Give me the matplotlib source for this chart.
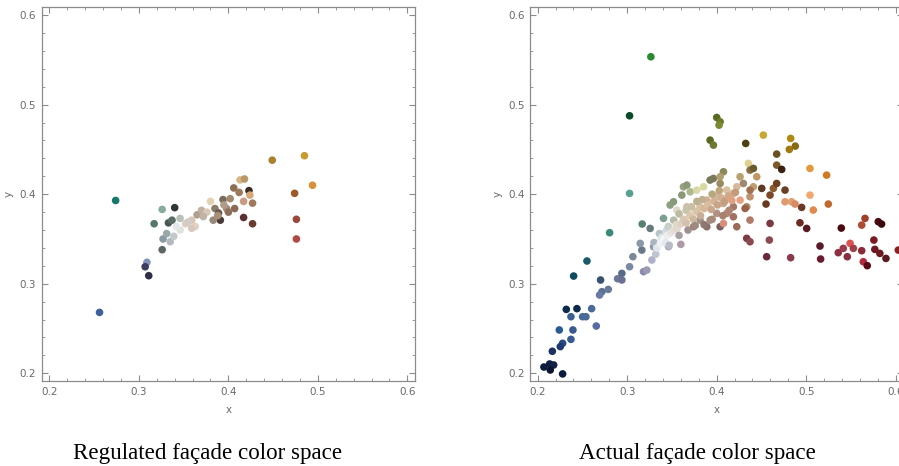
import matplotlib
matplotlib.use('Agg')
import matplotlib.pyplot as plt
from matplotlib.ticker import MultipleLocator

# Regulated facade colours (chromaticity x, y, colour)
reg_x = [0.256, 0.274, 0.309, 0.307, 0.311, 0.317, 0.326, 0.340, 0.326, 0.327,
         0.333, 0.337, 0.331, 0.335, 0.339, 0.346, 0.346, 0.352, 0.359, 0.363,
         0.359, 0.365, 0.370, 0.380, 0.376, 0.385, 0.389, 0.391, 0.383, 0.394,
         0.398, 0.402, 0.406, 0.412, 0.407, 0.413, 0.418, 0.417, 0.423, 0.424,
         0.427, 0.417, 0.427, 0.449, 0.485, 0.494, 0.474, 0.476, 0.476, 0.342,
         0.355, 0.372, 0.395, 0.400, 0.388]
reg_y = [0.268, 0.393, 0.324, 0.319, 0.309, 0.367, 0.383, 0.385, 0.338, 0.350,
         0.368, 0.371, 0.356, 0.347, 0.353, 0.373, 0.360, 0.367, 0.371, 0.364,
         0.362, 0.377, 0.382, 0.392, 0.380, 0.384, 0.379, 0.371, 0.371, 0.394,
         0.384, 0.395, 0.407, 0.402, 0.384, 0.416, 0.417, 0.392, 0.404, 0.399,
         0.390, 0.374, 0.367, 0.438, 0.443, 0.410, 0.401, 0.372, 0.350, 0.364,
         0.369, 0.375, 0.388, 0.380, 0.376]
reg_c = ['#3f6199', '#16786a', '#8393bb', '#3b3d5c', '#2e2e46', '#567868', '#8aab9c',
         '#2f3636', '#5a6565', '#8a9aa2', '#4a5656', '#5b6b66', '#9aa8ab', '#b2babf',
         '#c4caca', '#b8c2ba', '#e2e2de', '#d8d0c8', '#d8c8b8', '#e2d0c4', '#d8c8bc',
         '#b0a090', '#c0b0a0', '#e2d2b0', '#d8c8b8', '#8a7a6a', '#6a5a50', '#4a3a35',
         '#9a8a7a', '#7a6a5a', '#a28c7a', '#a08a70', '#8a7055', '#9a7a5a', '#8a6a55',
         '#d8b888', '#b89868', '#c89a80', '#3a2a20', '#d8a878', '#a07a58', '#5a3030',
         '#6a3a30', '#a88030', '#c89a30', '#d8903a', '#9a5a2a', '#9a4a3a', '#b04a45',
         '#e4e8ea', '#d4ccc4', '#c0b4a4', '#b09c88', '#8c705c', '#a89078']

# Actual facade colours
act_x = [0.207, 0.2134, 0.2179, 0.2141, 0.2279, 0.2164, 0.2242, 0.2279, 0.2253, 0.2372,
         0.2394, 0.2372, 0.232, 0.2439, 0.2502, 0.2539, 0.2603, 0.2655, 0.2402, 0.2551,
         0.2703, 0.2718, 0.2692, 0.2789, 0.2804, 0.2893, 0.2941, 0.2941, 0.3027, 0.3027,
         0.3027, 0.3168, 0.3183, 0.322, 0.3064, 0.3164, 0.3146, 0.3257, 0.3276, 0.3295,
         0.3369, 0.3406, 0.3443, 0.3406, 0.3462, 0.36, 0.348, 0.3518, 0.3611, 0.3629,
         0.3667, 0.3704, 0.3778, 0.3853, 0.3927, 0.4039, 0.3964, 0.4076, 0.4039, 0.3555,
         0.3667, 0.3741, 0.3815, 0.389, 0.4001, 0.4113, 0.4187, 0.4076, 0.4225, 0.3927,
         0.4001, 0.3815, 0.3741, 0.389, 0.4039, 0.4113, 0.4262, 0.4299, 0.4262, 0.4076,
         0.4187, 0.4225, 0.4187, 0.4336, 0.4373, 0.4411, 0.4355, 0.4373, 0.4411, 0.4448,
         0.4504, 0.4373, 0.4318, 0.4373, 0.4336, 0.4373, 0.4559, 0.4552, 0.4597, 0.4634,
         0.4597, 0.4589, 0.4671, 0.4764, 0.4671, 0.4727, 0.4671, 0.4522, 0.4827, 0.4812,
         0.4879, 0.4325, 0.3927, 0.3964, 0.4001, 0.4039, 0.4027, 0.4764, 0.4838, 0.4876,
         0.495, 0.4931, 0.5006, 0.5043, 0.5043, 0.508, 0.5229, 0.5248, 0.4827, 0.5155,
         0.5162, 0.5393, 0.5359, 0.5415, 0.546, 0.5491, 0.5528, 0.5621, 0.5621, 0.5658,
         0.5639, 0.5683, 0.5757, 0.5768, 0.5806, 0.5843, 0.5824, 0.5892, 0.603, 0.3265]
act_y = [0.207, 0.2104, 0.2093, 0.2037, 0.1993, 0.2246, 0.2484, 0.2335, 0.2298, 0.2379,
         0.2484, 0.2632, 0.2714, 0.2722, 0.2632, 0.2632, 0.2722, 0.2528, 0.3086, 0.3254,
         0.3042, 0.2911, 0.2874, 0.2937, 0.357, 0.3056, 0.3116, 0.3042, 0.319, 0.4876,
         0.4009, 0.3667, 0.3135, 0.3153, 0.3302, 0.3376, 0.3451, 0.3618, 0.3265, 0.3414,
         0.3488, 0.3562, 0.36, 0.373, 0.3414, 0.344, 0.3879, 0.3916, 0.399, 0.4083,
         0.4102, 0.4027, 0.4046, 0.4083, 0.4158, 0.412, 0.4176, 0.4251, 0.4195, 0.3823,
         0.386, 0.3786, 0.386, 0.3934, 0.3972, 0.4046, 0.4009, 0.3897, 0.4083, 0.3711,
         0.3786, 0.3711, 0.3637, 0.3637, 0.3637, 0.3786, 0.4195, 0.412, 0.3934, 0.3674,
         0.3748, 0.3637, 0.386, 0.386, 0.3972, 0.4083, 0.4344, 0.4269, 0.4288, 0.4195,
         0.4065, 0.4046, 0.3841, 0.3711, 0.3507, 0.3469, 0.3302, 0.389, 0.399, 0.4065,
         0.3674, 0.3488, 0.412, 0.4046, 0.4325, 0.4277, 0.4448, 0.466, 0.4623, 0.45,
         0.4537, 0.4567, 0.4604, 0.4548, 0.4857, 0.4809, 0.4771, 0.3916, 0.3916, 0.389,
         0.3853, 0.3681, 0.3618, 0.4288, 0.399, 0.3823, 0.4213, 0.389, 0.3291, 0.3421,
         0.3276, 0.3622, 0.3347, 0.3395, 0.3302, 0.3451, 0.3395, 0.3369, 0.3655, 0.373,
         0.3246, 0.3202, 0.3488, 0.3384, 0.3693, 0.3667, 0.3339, 0.3283, 0.3376, 0.5535]
act_c = ['#0c1c3c', '#0c1c42', '#122244', '#0a1632', '#0c1c3c', '#1c3262', '#2a5a92', '#2a4a82',
         '#1e3a72', '#3a5a92', '#3a5a92', '#3a6092', '#0c2a4a', '#0c2a4a', '#4a6a96', '#4a6a9a',
         '#4a6a9a', '#5a6aa2', '#0e4a60', '#1a5a6a', '#3a5072', '#5a7092', '#6a7aa2', '#6a7a96',
         '#3a8a7a', '#6a7a96', '#5a6a86', '#6a7092', '#7a8aa2', '#0c4a2c', '#5aa092', '#5a8070',
         '#8a8aaa', '#9a9ab6', '#7a8898', '#6a7888', '#8a98a8', '#6a7a7a', '#b0b0c8', '#9098a8',
         '#eceef2', '#e2e8f0', '#d0d8e2', '#7aa090', '#b0a8b8', '#b09aa8', '#8aa080', '#8a9a78',
         '#8a9878', '#9aa080', '#8a9a78', '#b0b890', '#d8d8a8', '#d8d8a2', '#7a7a5a', '#9a8a60',
         '#7a7a5a', '#8a8a5a', '#b0a070', '#e0d8c8', '#d0c0a8', '#e8dccc', '#d8c0a0', '#d0b090',
         '#d0b8a0', '#d8c0a0', '#c8b090', '#c8a890', '#d8b898', '#a09080', '#b09080', '#a09088',
         '#9a8070', '#8a7068', '#7a6060', '#b08870', '#b8a070', '#a08870', '#e8a080', '#d8907a',
         '#a07060', '#9a6a5a', '#a07868', '#b08868', '#c09070', '#c0a070', '#e0d090', '#8a7040',
         '#6a5a30', '#c09868', '#5a3a20', '#a07050', '#9a6048', '#b07a68', '#7a3a40', '#8a4a50',
         '#6a2a3a', '#6a3a20', '#7a4a28', '#8a5a30', '#7a3a40', '#8a4a50', '#6a4020', '#6a4020',
         '#7a5a28', '#3a2010', '#6a5020', '#c8a830', '#b08a10', '#a07a10', '#8a6a10', '#4a4010',
         '#5a6a20', '#6a7a30', '#5a6a20', '#6a7a25', '#7a8a30', '#e09a70', '#e0a070', '#d88a60',
         '#6a3a28', '#6a2a20', '#5a1a20', '#e09a40', '#f0a870', '#e08a50', '#d07a20', '#c06a30',
         '#8a3a4a', '#5a1a2a', '#6a1a30', '#4a0a10', '#8a3040', '#9a3a4a', '#8a3040', '#e05050',
         '#a04048', '#8a2a38', '#b04a30', '#a04028', '#b02a40', '#5a0a15', '#7a1a20', '#6a1a20',
         '#4a0a10', '#3a0a10', '#6a1a20', '#5a1a20', '#8a2020', '#2a8a30']

# dense light cloud in the middle of the actual colour space
cloud_x = [0.330, 0.332, 0.333, 0.336, 0.337, 0.339, 0.341, 0.343, 0.345, 0.346,
           0.347, 0.349, 0.352, 0.352, 0.355, 0.356, 0.358, 0.358, 0.360, 0.363,
           0.366, 0.366, 0.368, 0.370, 0.372, 0.374, 0.376, 0.378, 0.378, 0.382,
           0.384, 0.386, 0.386, 0.390, 0.394, 0.395, 0.395, 0.397, 0.401, 0.403,
           0.405, 0.407, 0.409, 0.413, 0.414, 0.417, 0.421]
cloud_y = [0.346, 0.333, 0.340, 0.356, 0.345, 0.352, 0.350, 0.346, 0.354, 0.364,
           0.343, 0.357, 0.360, 0.371, 0.366, 0.362, 0.354, 0.378, 0.367, 0.372,
           0.368, 0.382, 0.360, 0.376, 0.386, 0.372, 0.365, 0.381, 0.392, 0.376,
           0.394, 0.384, 0.366, 0.388, 0.383, 0.372, 0.400, 0.392, 0.388, 0.404,
           0.396, 0.376, 0.392, 0.398, 0.382, 0.393, 0.402]
cloud_c = ['#a8b4c0', '#c0c4d0', '#dfe6ee', '#b8c4c8', '#eef2f6', '#dde4ea', '#f4f6f8',
           '#e4e8ee', '#eeeeee', '#c8d0c8', '#b8bcc8', '#e6e4e0', '#e4ddd4', '#b4bca8',
           '#ddd8c8', '#e2d8cc', '#a8a0a4', '#bcbca0', '#e0d2c0', '#d8c8b4', '#d4c2ae',
           '#c8c4ac', '#a09090', '#dcc8ac', '#c8c0a4', '#d0b8a0', '#9e8a80', '#d8c4a4',
           '#b8b090', '#c8ae96', '#c0b090', '#d4b898', '#8e7870', '#d8bea0', '#c8a88c',
           '#a88a7a', '#b8a880', '#d4b494', '#c8a486', '#c0a47c', '#d0b090', '#a88070',
           '#c49e80', '#d2a884', '#b08474', '#e0a080', '#c49a78']

captions = ['Regulated façade color space', 'Actual façade color space']
caption_x = [208, 697]  # caption centres, figure pixels

fig = plt.figure(figsize=(8.99, 4.66), dpi=100)
ax1 = fig.add_axes([0.0464, 0.1824, 0.4153, 0.8032])
ax2 = fig.add_axes([0.5895, 0.1824, 0.4153, 0.8032])

frame = '#8c8c8c'
for ax in (ax1, ax2):
    ax.set_xlim(0.1914, 0.6086)
    ax.set_ylim(0.1914, 0.6094)
    ax.xaxis.set_major_locator(MultipleLocator(0.1))
    ax.yaxis.set_major_locator(MultipleLocator(0.1))
    ax.xaxis.set_minor_locator(MultipleLocator(0.02))
    ax.yaxis.set_minor_locator(MultipleLocator(0.02))
    ax.xaxis.set_major_formatter(plt.FuncFormatter(lambda v, p: f'{v:.1f}'))
    ax.yaxis.set_major_formatter(plt.FuncFormatter(lambda v, p: f'{v:.1f}'))
    ax.tick_params(which='both', direction='in', top=True, right=True,
                   color=frame, labelcolor='#6a6a6a', labelsize=7.5, pad=4)
    ax.tick_params(which='major', length=4, width=0.8)
    ax.tick_params(which='minor', length=2, width=0.6)
    for sp in ax.spines.values():
        sp.set_color(frame)
        sp.set_linewidth(0.9)
    ax.set_xlabel('x', color='#6a6a6a', fontsize=7.5, labelpad=6)
    ax.set_ylabel('y', color='#6a6a6a', fontsize=7.5, labelpad=4)

ax1.scatter(reg_x, reg_y, c=reg_c, s=30, linewidths=0, zorder=3)
ax2.scatter(act_x, act_y, c=act_c, s=30, linewidths=0, zorder=3)
ax2.scatter(cloud_x, cloud_y, c=cloud_c, s=30, linewidths=0, zorder=4)

for cx, cap in zip(caption_x, captions):
    fig.text(cx / 899, (466 - 459) / 466, cap, ha='center', va='baseline',
             family='Liberation Serif', fontsize=16.6, color='black')

fig.savefig('out.png', dpi=100)
